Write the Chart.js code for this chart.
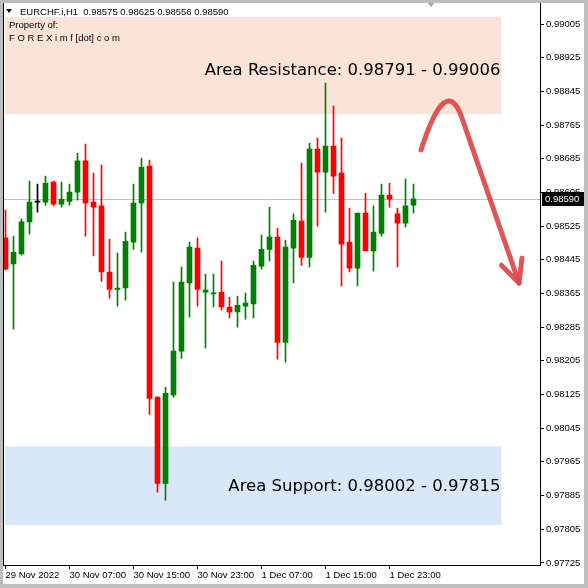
<!DOCTYPE html>
<html>
<head>
<meta charset="utf-8">
<script src="https://cdn.jsdelivr.net/npm/chart.js@4/dist/chart.umd.min.js"></script>
<style>
  html, body { margin: 0; padding: 0; background: #fff; }
  #myChart { display: block; }
</style>
</head>
<body>
<canvas id="myChart" width="588" height="588"></canvas>
<script>
// EURCHF.i H1 candles, oldest first
var openP = [
  0.98497, 0.98435, 0.98459, 0.98535, 0.98582, 0.98582, 0.98630, 0.98577, 0.98584, 0.98606,
  0.98680, 0.98582, 0.98573, 0.98416, 0.98375, 0.98378, 0.98487, 0.98580, 0.98668, 0.98119,
  0.97914, 0.98124, 0.98228, 0.98390, 0.98473, 0.98368, 0.98364, 0.98368, 0.98333, 0.98321,
  0.98335, 0.98340, 0.98430, 0.98470, 0.98499, 0.98249, 0.98473, 0.98537, 0.98451, 0.98708,
  0.98653, 0.98715, 0.98651, 0.98487, 0.98425, 0.98556, 0.98466, 0.98508, 0.98599, 0.98554,
  0.98532, 0.98575
];
var highP = [
  0.98563, 0.98501, 0.98542, 0.98632, 0.98625, 0.98644, 0.98632, 0.98630, 0.98625, 0.98698,
  0.98720, 0.98651, 0.98670, 0.98494, 0.98461, 0.98511, 0.98625, 0.98687, 0.98682, 0.98119,
  0.98142, 0.98392, 0.98428, 0.98487, 0.98497, 0.98411, 0.98411, 0.98442, 0.98356, 0.98359,
  0.98366, 0.98442, 0.98504, 0.98570, 0.98520, 0.98492, 0.98554, 0.98675, 0.98722, 0.98734,
  0.98865, 0.98810, 0.98734, 0.98568, 0.98556, 0.98603, 0.98573, 0.98625, 0.98627, 0.98568,
  0.98637, 0.98625
];
var lowP = [
  0.98421, 0.98280, 0.98456, 0.98506, 0.98558, 0.98575, 0.98573, 0.98570, 0.98575, 0.98587,
  0.98501, 0.98454, 0.98394, 0.98354, 0.98335, 0.98349, 0.98470, 0.98463, 0.98078, 0.97893,
  0.97874, 0.98119, 0.98211, 0.98309, 0.98335, 0.98235, 0.98333, 0.98326, 0.98307, 0.98285,
  0.98304, 0.98307, 0.98423, 0.98442, 0.98209, 0.98202, 0.98390, 0.98432, 0.98428, 0.98525,
  0.98558, 0.98603, 0.98383, 0.98416, 0.98383, 0.98466, 0.98418, 0.98501, 0.98570, 0.98428,
  0.98523, 0.98556
];
var closeP = [
  0.98423, 0.98463, 0.98535, 0.98582, 0.98582, 0.98627, 0.98577, 0.98589, 0.98606, 0.98680,
  0.98580, 0.98570, 0.98416, 0.98375, 0.98378, 0.98489, 0.98580, 0.98665, 0.98116, 0.97914,
  0.98128, 0.98228, 0.98392, 0.98475, 0.98375, 0.98373, 0.98366, 0.98333, 0.98321, 0.98337,
  0.98342, 0.98432, 0.98470, 0.98499, 0.98249, 0.98475, 0.98539, 0.98451, 0.98708, 0.98653,
  0.98715, 0.98644, 0.98482, 0.98425, 0.98556, 0.98466, 0.98511, 0.98599, 0.98589, 0.98532,
  0.98573, 0.98590
];

var timeLabels = ["29 Nov 2022", "30 Nov 07:00", "30 Nov 15:00", "30 Nov 23:00", "1 Dec 07:00", "1 Dec 15:00", "1 Dec 23:00"];
var labelBars = [0, 8, 16, 24, 32, 40, 48];
var priceTicks = [0.99005, 0.98925, 0.98845, 0.98765, 0.98685, 0.98605, 0.98525, 0.98445, 0.98365,
  0.98285, 0.98205, 0.98125, 0.98045, 0.97965, 0.97885, 0.97805, 0.97725];

// zones drawn on the chart (resistance, support)
var zoneLow = [0.98791, 0.97815];
var zoneHigh = [0.99022, 0.98002];
var zoneText = ["Area Resistance: 0.98791 - 0.99006", "Area Support: 0.98002 - 0.97815"];
var zoneColors = ["#FCE3D7", "#D9E8F8"];
var zoneEndBar = 62;

var lastPrice = 0.98590;
var header = "EURCHF.i,H1  0.98575 0.98625 0.98556 0.98590";

// hand drawn forecast arrow (bar index, price): start, control, join, tip
var arrowX = [51.94, 55.06, 57.06, 64.19];
var arrowY = [0.98706, 0.98891, 0.98782, 0.98390];

var GREEN = "#008000", RED = "#FF0000";
var candleColors = openP.map(function (o, i) {
  if (closeP[i] > o) return GREEN;
  if (closeP[i] < o) return RED;
  return "#000000";
});

var bodies = openP.map(function (o, i) { return { x: i, y: [o, closeP[i]] }; });
var wicks = lowP.map(function (l, i) { return { x: i, y: [l, highP[i]] }; });

Chart.defaults.font.family = "'Liberation Sans', Arial, sans-serif";
Chart.defaults.font.size = 9.5;
Chart.defaults.color = "#000";

var decor = {
  id: "decor",
  beforeDraw: function (chart) {
    var c = chart.ctx;
    c.save();
    c.fillStyle = "#fff";
    c.fillRect(0, 0, chart.width, chart.height);
    c.restore();
  },
  beforeDatasetsDraw: function (chart) {
    var c = chart.ctx, a = chart.chartArea, x = chart.scales.x, y = chart.scales.y;
    c.save();
    for (var i = 0; i < zoneLow.length; i++) {
      var t = y.getPixelForValue(zoneHigh[i]);
      var b = y.getPixelForValue(zoneLow[i]);
      c.fillStyle = zoneColors[i];
      c.fillRect(a.left + 2, t, x.getPixelForValue(zoneEndBar) - a.left - 2, b - t);
    }
    // current bid line
    var py = Math.round(y.getPixelForValue(lastPrice)) + 0.5;
    c.strokeStyle = "#C0C0C0";
    c.lineWidth = 1;
    c.beginPath();
    c.moveTo(a.left, py);
    c.lineTo(a.right, py);
    c.stroke();
    c.restore();
  },
  afterDraw: function (chart) {
    var c = chart.ctx, a = chart.chartArea, x = chart.scales.x, y = chart.scales.y;
    c.save();
    // frame lines up to the top edge
    c.strokeStyle = "#000";
    c.lineWidth = 1;
    c.beginPath();
    c.moveTo(a.left + 0.5, 0);
    c.lineTo(a.left + 0.5, a.bottom);
    c.moveTo(a.right + 0.5, 2);
    c.lineTo(a.right + 0.5, a.top);
    c.stroke();

    // zone labels
    c.font = "16.5px 'DejaVu Sans'";
    c.fillStyle = "#000";
    c.textAlign = "right";
    c.textBaseline = "middle";
    var right = x.getPixelForValue(zoneEndBar) - 1;
    c.fillText(zoneText[0], right, 71);
    c.fillText(zoneText[1], right, 487);

    // arrow
    var p = arrowX.map(function (v, i) { return [x.getPixelForValue(v), y.getPixelForValue(arrowY[i])]; });
    c.strokeStyle = "rgba(221,70,70,0.92)";
    c.lineWidth = 5;
    c.lineCap = "round";
    c.lineJoin = "round";
    c.beginPath();
    c.moveTo(p[0][0], p[0][1]);
    c.quadraticCurveTo(p[1][0], p[1][1], p[2][0], p[2][1]);
    c.lineTo(p[3][0], p[3][1]);
    c.stroke();
    var ang = Math.atan2(p[3][1] - p[2][1], p[3][0] - p[2][0]) + Math.PI;
    var len = 25, spread = 0.45;
    c.beginPath();
    c.moveTo(p[3][0] + len * Math.cos(ang - spread), p[3][1] + len * Math.sin(ang - spread));
    c.lineTo(p[3][0], p[3][1]);
    c.lineTo(p[3][0] + len * Math.cos(ang + spread), p[3][1] + len * Math.sin(ang + spread));
    c.stroke();

    // header text
    c.fillStyle = "#000";
    c.beginPath();
    c.moveTo(6, 9); c.lineTo(12, 9); c.lineTo(9, 13); c.closePath();
    c.fill();
    c.textAlign = "left";
    c.textBaseline = "middle";
    c.font = "9.5px 'Liberation Sans'";
    c.fillText(header, 20, 12);
    c.fillText("Property of:", 9, 25);
    c.fillText("F O R E X i m f [dot] c o m", 9, 38);

    // shift marker
    c.fillStyle = "#A8A8A8";
    c.beginPath();
    c.moveTo(425, 0); c.lineTo(437, 0); c.lineTo(431, 7); c.closePath();
    c.fill();

    // bid price label
    var by = Math.round(y.getPixelForValue(lastPrice));
    c.fillStyle = "#000";
    c.fillRect(a.right + 2, by - 7, 42, 14);
    c.fillStyle = "#fff";
    c.fillText(lastPrice.toFixed(5), a.right + 5, by + 0.5);

    // outer frame
    c.strokeStyle = "#BDBDBD";
    c.strokeRect(0.5, 0.5, chart.width - 2, chart.height - 2);
    c.restore();
  }
};

new Chart("myChart", {
  type: "bar",
  data: {
    datasets: [{
      data: bodies,
      backgroundColor: candleColors,
      barThickness: 5,
      minBarLength: 1,
      grouped: false,
      borderWidth: 0
    }, {
      data: wicks,
      backgroundColor: candleColors,
      barThickness: 1,
      grouped: false,
      borderWidth: 0
    }]
  },
  options: {
    responsive: false,
    animation: false,
    layout: { padding: { left: 3, top: 3, right: 0, bottom: 0 } },
    plugins: {
      legend: { display: false },
      tooltip: { enabled: false }
    },
    scales: {
      x: {
        type: "linear",
        offset: false,
        min: -0.3125,
        max: 66.8125,
        afterBuildTicks: function (s) {
          s.ticks = labelBars.map(function (v) { return { value: v }; });
        },
        afterFit: function (s) { s.height = 23; },
        grid: { offset: false, drawOnChartArea: false, drawTicks: true, tickLength: 4, color: "#000" },
        border: { display: true, color: "#000" },
        ticks: {
          autoSkip: false,
          maxRotation: 0,
          minRotation: 0,
          align: "start",
          padding: 1,
          callback: function (v, i) { return timeLabels[i]; }
        }
      },
      y: {
        type: "linear",
        position: "right",
        min: 0.97720,
        max: 0.99044,
        afterBuildTicks: function (s) {
          s.ticks = priceTicks.map(function (v) { return { value: v }; });
        },
        afterFit: function (s) { s.width = 48; },
        grid: { drawOnChartArea: false, drawTicks: true, tickLength: 4, color: "#000" },
        border: { display: true, color: "#000" },
        ticks: {
          padding: 2,
          callback: function (v) { return v.toFixed(5); }
        }
      }
    }
  },
  plugins: [decor]
});
</script>
</body>
</html>
